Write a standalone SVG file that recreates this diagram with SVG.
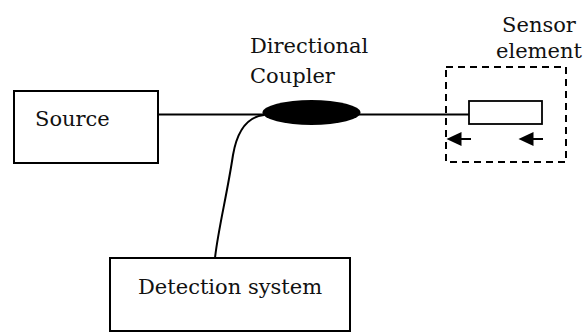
<svg xmlns="http://www.w3.org/2000/svg" width="586" height="332" viewBox="0 0 586 332">
<style>
.box{fill:#fff;stroke:#000;stroke-width:2}
.lbl{font-family:'DejaVu Serif',serif;font-size:21px;fill:#111}
.wire{fill:none;stroke:#000;stroke-width:2}
</style>
<rect width="586" height="332" fill="#fff"/>
<g id="connectors">
<line class="wire" x1="158" y1="114.5" x2="265" y2="114.5"/>
<line class="wire" x1="358" y1="114.5" x2="469" y2="114.5"/>
<path class="wire" d="M264,115 C246,117 237,132 233,155 C227,195 218,230 215,258"/>
</g>
<g id="source">
<rect class="box" x="14" y="91" width="144" height="72"/>
<text class="lbl" x="35" y="126">Source</text>
</g>
<g id="coupler">
<ellipse cx="311.5" cy="112.5" rx="49" ry="12.5" fill="#000"/>
<text class="lbl" x="250" y="53">Directional</text>
<text class="lbl" x="250" y="83">Coupler</text>
</g>
<g id="sensor">
<rect x="446" y="67" width="120" height="95" fill="none" stroke="#000" stroke-width="2" stroke-dasharray="7,5"/>
<rect x="469" y="101" width="73" height="23" fill="#fff" stroke="#000" stroke-width="1.8"/>
<line x1="471" y1="139" x2="461" y2="139" stroke="#000" stroke-width="2"/>
<path d="M446.5,139 L461.5,132 L461.5,146 Z" fill="#000"/>
<line x1="543" y1="139" x2="533" y2="139" stroke="#000" stroke-width="2"/>
<path d="M518.5,139 L533.5,132 L533.5,146 Z" fill="#000"/>
<text class="lbl" x="539" y="32" text-anchor="middle">Sensor</text>
<text class="lbl" x="539" y="58" text-anchor="middle">element</text>
</g>
<g id="detection">
<rect class="box" x="110" y="258" width="240" height="73"/>
<text class="lbl" x="138" y="294">Detection system</text>
</g>
</svg>
